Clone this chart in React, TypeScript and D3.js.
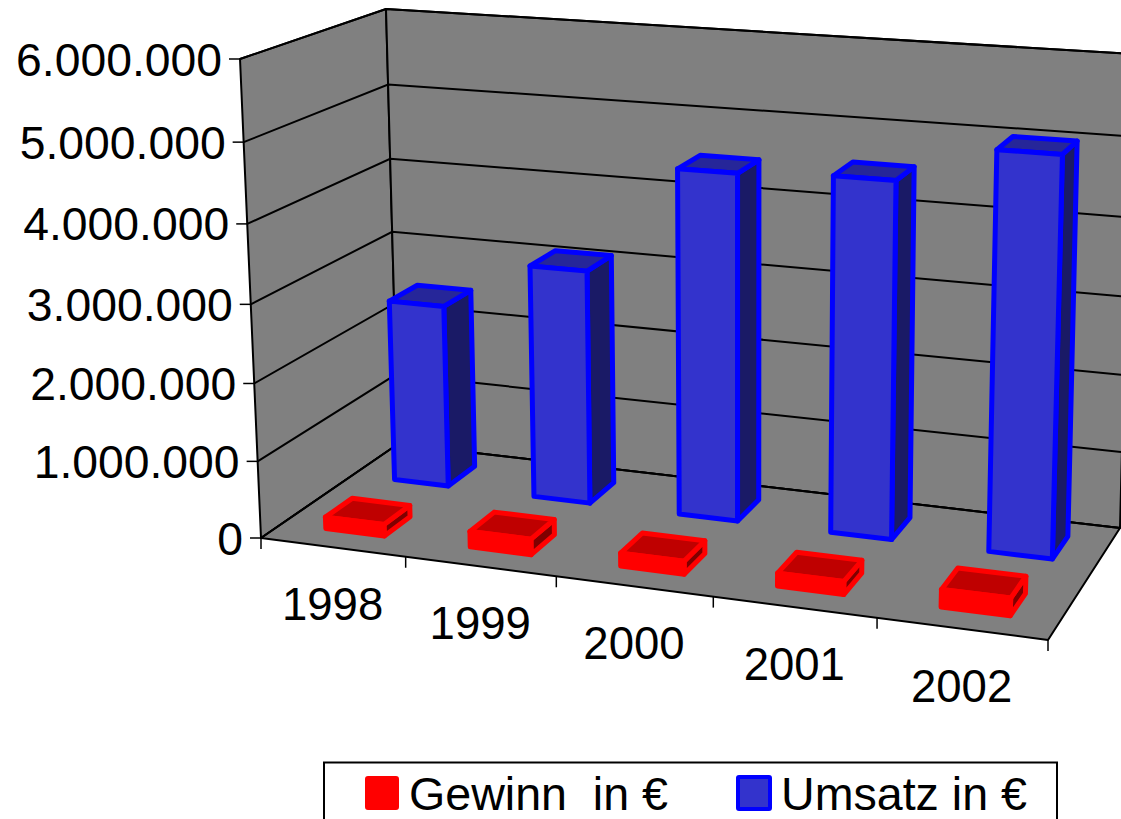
import React from "react";
import * as d3 from "d3";

const categories = ["1998", "1999", "2000", "2001", "2002"];
const gewinn = [150000, 200000, 165000, 162000, 215000];
const umsatz = [2440000, 3080000, 4480000, 4540000, 5000000];
const yTicks = [0, 1000000, 2000000, 3000000, 4000000, 5000000, 6000000];
const legendLabels = ["Gewinn  in €", "Umsatz in €"];

type Pt = [number, number];
const W = 1121, H = 819;
// box corners of the 3D scene on the page
const floorFL: Pt = [261, 538], floorFR: Pt = [1048, 640], floorBL: Pt = [398, 444], floorBR: Pt = [1120, 528];
const topFL: Pt = [240, 59], topFR: Pt = [1066, 110], topBL: Pt = [386, 9], topBR: Pt = [1132, 54];
const K_U = 1.11, K_W = 1.05;

const persp = (x: number, k: number) => x / (x + k * (1 - x));
const mix = (a: Pt, b: Pt, t: number): Pt => [a[0] + (b[0] - a[0]) * t, a[1] + (b[1] - a[1]) * t];

const yScale = d3.scaleLinear().domain([0, 6000000]).range([0, 1]);
const xEdges = d3.scaleBand<string>().domain(categories).range([0, 1]);
const xBlue = d3.scaleBand<string>().domain(categories).range([-0.0005, 1.0075]).paddingInner(0.61).paddingOuter(0.305);
const xRed = d3.scaleBand<string>().domain(categories).range([0.002, 1.0014]).paddingInner(0.59).paddingOuter(0.295);

function project(u: number, v: number, val: number): Pt {
  const t = persp(u, K_U);
  const w = persp(yScale(val), K_W);
  const floor = mix(mix(floorFL, floorFR, t), mix(floorBL, floorBR, t), v);
  const top = mix(mix(topFL, topFR, t), mix(topBL, topBR, t), v);
  return mix(floor, top, w);
}

const poly = d3.line<Pt>().curve(d3.curveLinearClosed);
const seg = d3.line<Pt>();
const fmt = d3.formatLocale({ decimal: ",", thousands: ".", grouping: [3], currency: ["", "€"] }).format(",");

const FONT = "'Liberation Sans', Arial, sans-serif";

type BarStyle = { front: string; side: string; top: string; stroke: string };
const blueStyle: BarStyle = { front: "#3333CC", side: "#1A1A66", top: "#262699", stroke: "#0000FF" };
const redStyle: BarStyle = { front: "#FF0000", side: "#7F0000", top: "#BF0000", stroke: "#FF0000" };

function Bar({ u0, u1, val, v0, v1, s }: { u0: number; u1: number; val: number; v0: number; v1: number; s: BarStyle }) {
  const faces: [Pt[], string][] = [
    [[project(u1, v0, 0), project(u1, v1, 0), project(u1, v1, val), project(u1, v0, val)], s.side],
    [[project(u0, v0, val), project(u1, v0, val), project(u1, v1, val), project(u0, v1, val)], s.top],
    [[project(u0, v0, 0), project(u1, v0, 0), project(u1, v0, val), project(u0, v0, val)], s.front],
  ];
  return (
    <g>
      {faces.map(([pts, fill], i) => (
        <path key={i} d={poly(pts)!} fill={fill} stroke={s.stroke} strokeWidth={5} strokeLinejoin="round" />
      ))}
    </g>
  );
}

export default function App() {
  const maxV = yTicks[yTicks.length - 1];
  const wallLeft = [project(0, 0, 0), project(0, 0, maxV), project(0, 1, maxV), project(0, 1, 0)];
  const wallBack = [project(0, 1, 0), project(0, 1, maxV), project(1, 1, maxV), project(1, 1, 0)];
  const floor = [project(0, 0, 0), project(1, 0, 0), project(1, 1, 0), project(0, 1, 0)];
  const edges = categories.map((c) => xEdges(c)!).concat(1);
  return (
    <svg width={W} height={H} viewBox={`0 0 ${W} ${H}`} style={{ position: "absolute", left: 0, top: 0, display: "block", background: "#fff" }}>
      {[wallLeft, wallBack, floor].map((p, i) => (
        <path key={i} d={poly(p)!} fill="#808080" stroke="#000" strokeWidth={2} strokeLinejoin="round" />
      ))}
      {yTicks.map((t) => (
        <g key={t}>
          <path d={seg([project(0, 0, t), project(0, 1, t), project(1, 1, t)])!} fill="none" stroke="#000" strokeWidth={2} />
          {(() => {
            const p = project(0, 0, t);
            return (
              <g>
                <path d={seg([[p[0] - 11, p[1]], p])!} stroke="#000" strokeWidth={1.5} />
                <text x={p[0] - 18} y={p[1] + 16.5} textAnchor="end" fontFamily={FONT} fontSize={46.3} fill="#000">{fmt(t)}</text>
              </g>
            );
          })()}
        </g>
      ))}
      {categories.map((c, i) => (
        <Bar key={c} u0={xBlue(c)!} u1={xBlue(c)! + xBlue.bandwidth()} val={umsatz[i]} v0={0.675} v1={0.88} s={blueStyle} />
      ))}
      {categories.map((c, i) => (
        <Bar key={c} u0={xRed(c)!} u1={xRed(c)! + xRed.bandwidth()} val={gewinn[i]} v0={0.16} v1={0.36} s={redStyle} />
      ))}
      {edges.map((u, i) => {
        const p = project(u, 0, 0);
        return <path key={i} d={seg([p, [p[0], p[1] + 11]])!} stroke="#000" strokeWidth={1.5} />;
      })}
      {categories.map((c) => {
        const p = project(xEdges(c)! + xEdges.bandwidth() / 2, 0, 0);
        return <text key={c} x={p[0]} y={p[1] + 73} textAnchor="middle" fontFamily={FONT} fontSize={45.5} fill="#000">{c}</text>;
      })}
      <g>
        <rect x={324} y={762.5} width={733} height={70} fill="#fff" stroke="#000" strokeWidth={2} />
        <rect x={366} y={777} width={32} height={32} rx={2} fill="#FF0000" stroke="#FF0000" strokeWidth={2} />
        <text x={409} y={810} fontFamily={FONT} fontSize={46.6} fill="#000" style={{ whiteSpace: "pre" }}>{legendLabels[0]}</text>
        <rect x={738} y={777} width={32} height={32} rx={1} fill="#3333CC" stroke="#0000FF" strokeWidth={4} />
        <text x={781} y={810} fontFamily={FONT} fontSize={46.6} fill="#000" style={{ whiteSpace: "pre" }}>{legendLabels[1]}</text>
      </g>
    </svg>
  );
}
